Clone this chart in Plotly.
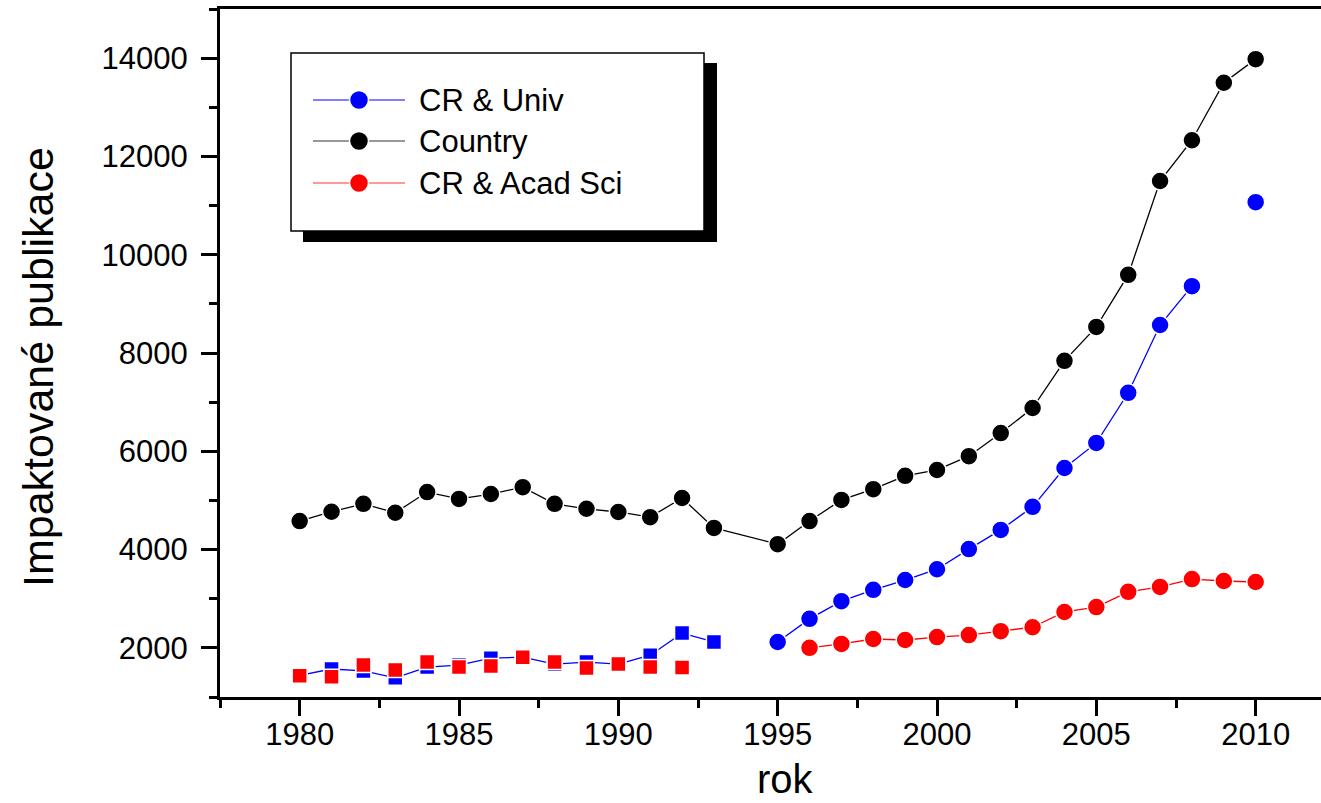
import plotly.graph_objects as go

# ---------------- data ----------------
country_years = [1980, 1981, 1982, 1983, 1984, 1985, 1986, 1987, 1988, 1989, 1990, 1991, 1992, 1993,
                 1995, 1996, 1997, 1998, 1999, 2000, 2001, 2002, 2003, 2004, 2005, 2006, 2007, 2008, 2009, 2010]
country_vals = [4580, 4770, 4930, 4750, 5170, 5030, 5130, 5270, 4930, 4830, 4765, 4660, 5050, 4440,
                4110, 4580, 5010, 5230, 5500, 5620, 5900, 6370, 6880, 7840, 8530, 9590, 11500, 12330, 13500, 13980]

univ_years = [1995, 1996, 1997, 1998, 1999, 2000, 2001, 2002, 2003, 2004, 2005, 2006, 2007, 2008, 2009, 2010]
univ_vals = [2120, 2590, 2950, 3180, 3380, 3600, 4010, 4400, 4870, 5660, 6170, 7190, 8570, 9360, None, 11070]

acad_years = [1996, 1997, 1998, 1999, 2000, 2001, 2002, 2003, 2004, 2005, 2006, 2007, 2008, 2009, 2010]
acad_vals = [2000, 2080, 2180, 2160, 2220, 2260, 2340, 2420, 2730, 2830, 3140, 3240, 3400, 3360, 3340]

univ_old_years = [1980, 1981, 1982, 1983, 1984, 1985, 1986, 1987, 1988, 1989, 1990, 1991, 1992, 1993]
univ_old_vals = [1440, 1570, 1530, 1390, 1610, 1650, 1790, 1810, 1670, 1710, 1670, 1850, 2300, 2120]

acad_old_years = [1980, 1981, 1982, 1983, 1984, 1985, 1986, 1987, 1988, 1989, 1990, 1991, 1992]
acad_old_vals = [1430, 1410, 1650, 1550, 1710, 1610, 1630, 1810, 1710, 1590, 1670, 1610, 1600]

legend_names = ["CR & Univ", "Country", "CR & Acad Sci"]
legend_colors = ["#0000ff", "#000000", "#ff0000"]
legend_line_colors = ["#0000ff", "#333333", "#ff3333"]

x_title = "rok"
y_title = "Impaktované publikace"

# ---------------- layout geometry (pixels) ----------------
W, H = 1321, 803
L, R, T, B = 220, 1321, 9, 697
FONT = "Liberation Sans, Arial, sans-serif"


def xp(px):
    return (px - L) / (R - L)


def yp(py):
    return (B - py) / (B - T)


fig = go.Figure()

mk_line = dict(color="white", width=1.5)

fig.add_trace(go.Scatter(x=univ_old_years, y=univ_old_vals, mode="lines+markers",
                         line=dict(color="#0000ff", width=1.3),
                         marker=dict(symbol="square", size=15, color="#0000ff", line=mk_line),
                         showlegend=False, name="CR & Univ (old)"))
fig.add_trace(go.Scatter(x=acad_old_years, y=acad_old_vals, mode="markers",
                         marker=dict(symbol="square", size=15, color="#ff0000", line=mk_line),
                         showlegend=False, name="CR & Acad Sci (old)"))
fig.add_trace(go.Scatter(x=country_years, y=country_vals, mode="lines+markers",
                         line=dict(color="#000000", width=1.3),
                         marker=dict(symbol="circle", size=18, color="#000000", line=mk_line),
                         showlegend=False, name="Country"))
fig.add_trace(go.Scatter(x=univ_years, y=univ_vals, mode="lines+markers", connectgaps=False,
                         line=dict(color="#0000ff", width=1.3),
                         marker=dict(symbol="circle", size=18, color="#0000ff", line=mk_line),
                         showlegend=False, name="CR & Univ"))
fig.add_trace(go.Scatter(x=acad_years, y=acad_vals, mode="lines+markers",
                         line=dict(color="#ff0000", width=1.3),
                         marker=dict(symbol="circle", size=18, color="#ff0000", line=mk_line),
                         showlegend=False, name="CR & Acad Sci"))

# ---------------- custom legend (drawn on overlay pixel axes) ----------------
rows_y = [100, 141, 183]
for name, c, lc, ry in zip(legend_names, legend_colors, legend_line_colors, rows_y):
    fig.add_trace(go.Scatter(x=[313, 405], y=[ry, ry], xaxis="x2", yaxis="y2", mode="lines",
                             line=dict(color=lc, width=1.2), showlegend=False, hoverinfo="skip",
                             cliponaxis=False))
    fig.add_trace(go.Scatter(x=[359], y=[ry], xaxis="x2", yaxis="y2", mode="markers",
                             marker=dict(symbol="circle", size=19, color=c, line=dict(color="white", width=1.5)),
                             showlegend=False, hoverinfo="skip", cliponaxis=False))
    fig.add_annotation(x=xp(417), y=yp(ry), xref="paper", yref="paper", text=name,
                       showarrow=False, xanchor="left", yanchor="middle",
                       font=dict(family=FONT, size=31, color="black"))

shapes = [
    dict(type="rect", xref="paper", yref="paper", x0=xp(303), x1=xp(717), y0=yp(242), y1=yp(63),
         fillcolor="black", line=dict(width=0), layer="below"),
    dict(type="rect", xref="paper", yref="paper", x0=xp(291), x1=xp(704), y0=yp(231), y1=yp(53),
         fillcolor="white", line=dict(color="black", width=1.5), layer="below"),
]

# axis titles
fig.add_annotation(x=xp(785), y=yp(803), xref="paper", yref="paper", text=x_title, showarrow=False,
                   xanchor="center", yanchor="bottom", font=dict(family=FONT, size=40, color="black"))
fig.add_annotation(x=xp(38), y=yp(367), xref="paper", yref="paper", text=y_title, showarrow=False,
                   textangle=-90, xanchor="center", yanchor="middle",
                   font=dict(family=FONT, size=43, color="black"))

fig.update_layout(
    width=W, height=H,
    margin=dict(l=L, r=W - R, t=T, b=H - B, pad=0, autoexpand=False),
    paper_bgcolor="white", plot_bgcolor="white",
    shapes=shapes,
    xaxis=dict(range=[1977.5, 2012.05], tick0=1980, dtick=5, tickformat="d", automargin=False,
               showgrid=False, zeroline=False, showline=True, linecolor="black", linewidth=3,
               mirror=True, ticks="outside", ticklen=16, tickwidth=3, tickcolor="black",
               minor=dict(dtick=2.5, tick0=1977.5, ticks="outside", ticklen=8, tickwidth=3, tickcolor="black"),
               tickfont=dict(family=FONT, size=31, color="black")),
    yaxis=dict(range=[1000, 15000], tick0=0, dtick=2000, tickformat="d", automargin=False,
               showgrid=False, zeroline=False, showline=True, linecolor="black", linewidth=3,
               ticks="outside", ticklen=16, tickwidth=3, tickcolor="black",
               minor=dict(dtick=1000, tick0=0, ticks="outside", ticklen=8, tickwidth=3, tickcolor="black"),
               tickfont=dict(family=FONT, size=31, color="black"), ticklabelstandoff=7),
    xaxis2=dict(range=[L, R], overlaying="x", visible=False, fixedrange=True),
    yaxis2=dict(range=[B, T], overlaying="y", visible=False, fixedrange=True),
    showlegend=False,
)

try:
    fig.layout.xaxis.ticklabelstandoff = -8
except Exception:
    fig.layout.xaxis.ticklabelstandoff = 0

fig.write_html(
    "out.html",
    config={"displayModeBar": False},
    post_script=("document.body.style.margin='0';document.body.style.overflow='hidden';"
                 "document.documentElement.style.overflow='hidden';"),
)
